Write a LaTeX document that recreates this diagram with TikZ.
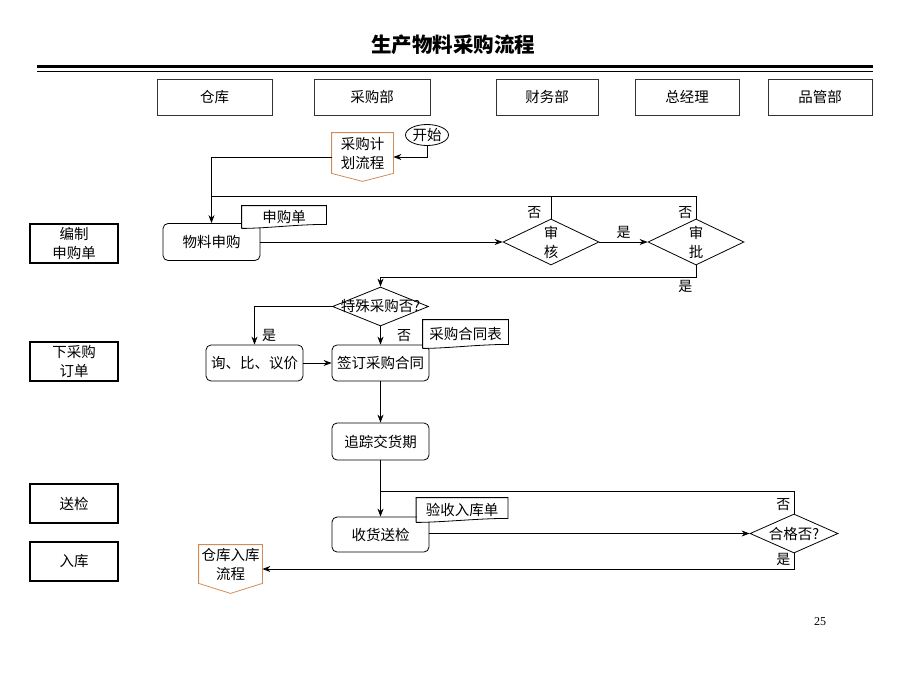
\documentclass[tikz,border=0pt]{standalone}
\usepackage{fontspec}
\setmainfont{Noto Sans CJK SC}
\newfontfamily\numfont{Liberation Serif}
\usetikzlibrary{arrows.meta,
  calc,
  positioning,
  shapes
}
\definecolor{pagecol}{RGB}{210,140,90}

% document symbol round a named node
\newcommand{\docshape}[1]{%
  \draw (#1.south west) -- (#1.north west) -- (#1.north east) -- ([yshift=4pt]#1.south east)
    .. controls +(-30pt,0pt) and +(25pt,0pt) .. (#1.south west);}
% off-page symbol round a named node
\newcommand{\offpage}[2]{%
  \draw[pagecol] (#1.south west) -- (#1.north west) -- (#1.north east) -- (#1.south east)
    -- ([yshift=-#2]#1.south) -- cycle;}

\begin{document}
\begin{tikzpicture}[x=1pt, y=-1pt, >={Stealth[length=8pt,width=6pt]}, line width=0.8pt,
  every node/.style={font=\fontsize{14.5}{19}\selectfont},
  lane/.style={draw=black!80, line width=0.7pt, minimum height=36pt},
  side/.style={draw, line width=1.8pt, minimum width=88pt, minimum height=39pt, align=center},
  box/.style={draw, rounded corners=5pt, inner sep=3pt, minimum width=97pt, minimum height=36pt},
  dec/.style={draw, diamond, inner sep=0pt},
  doc/.style={fill=white, inner sep=1pt},
  page/.style={align=center, inner sep=0pt},
  note/.style={font=\fontsize{14}{16}\selectfont}]
  \useasboundingbox (0,0) rectangle (920,690);

  % title
  \node[font=\fontsize{20.5}{24}\selectfont\bfseries] (title) at (453,45) {生产物料采购流程};
  \draw[line width=3pt] (37,67) -- (873,67);
  \draw[line width=1pt] (37,71.5) -- (873,71.5);

  % departments
  \node[lane, minimum width=115pt] (ware) at (214.5,97) {仓库};
  \node[lane, minimum width=116pt] (purch) at (372,97) {采购部};
  \node[lane, minimum width=102pt] (fin) at (547,97) {财务部};
  \node[lane, minimum width=104pt] (gm) at (687,97) {总经理};
  \node[lane, minimum width=104pt] (qc) at (820,97) {品管部};

  % steps
  \node[side] (sApply) at (74,243.5) {编制\\申购单};
  \node[side] (sOrder) at (74,361.5) {下采购\\订单};
  \node[side] (sCheck) at (74,503.5) {送检};
  \node[side] (sStore) at (74,561.5) {入库};

  % request
  \node[draw, ellipse, inner sep=0pt, minimum width=43pt, minimum height=21pt] (start) at (427,135) {开始};
  \node[page, minimum width=61pt, minimum height=40pt] (plan) at (362.5,153) {采购计\\划流程};
  \offpage{plan}{8pt}
  \node[box, minimum height=37pt] (apply) at (211.5,242) {物料申购};
  \node[doc, minimum width=84pt, minimum height=22pt] (form1) at (284,217) {申购单};
  \docshape{form1}
  \draw[->] (start) |- ([yshift=-4pt]plan.east);
  \draw[->] ([yshift=-4pt]plan.west) -| (apply);

  % approval
  \node[dec, minimum width=96pt, minimum height=46pt, label={[align=center]center:审\\核}] (review) at (551,242) {};
  \node[dec, minimum width=96pt, minimum height=46pt, label={[align=center]center:审\\批}] (approve) at (696,242) {};
  \coordinate (topL) at (211.5,196);
  \coordinate (yes1) at (696,277);
  \draw[->] (apply) -- (review);
  \draw[->] (review) -- node[note, above] {是} (approve);
  \draw (review.north) -- node[note, pos=0.25, left=6pt] {否} (review.north |- topL);
  \draw (approve.north) -- node[note, pos=0.25, left] {否} (approve.north |- topL) -- (topL);

  % order
  \node[dec, minimum width=96pt, minimum height=39pt, label=center:特殊采购否?] (special) at (380.5,306.5) {};
  \node[box] (compare) at (254.5,363) {询、比、议价};
  \node[box] (sign) at (380.5,363) {签订采购合同};
  \node[doc, minimum width=85pt, minimum height=28pt] (form2) at (465.5,334) {采购合同表};
  \docshape{form2}
  \node[box, minimum height=37pt] (track) at (380.5,441.5) {追踪交货期};
  \draw[->] (approve.south) -- (yes1) node[note, below left] {是} -| (special);
  \draw[->] (special) -| node[note, pos=0.88, right=4pt] {是} (compare);
  \draw[->] (special) -- node[note, right=13pt] {否} (sign);
  \draw[->] (compare) -- (sign);
  \draw[->] (sign) -- (track);

  % inspection
  \node[box, minimum height=35pt] (receive) at (380.5,534.5) {收货送检};
  \node[doc, minimum width=91pt, minimum height=24pt] (form3) at (462,510) {验收入库单};
  \docshape{form3}
  \node[dec, minimum width=88pt, minimum height=39pt, label=center:合格否?] (quality) at (794,533.5) {};
  \node[page, minimum width=63pt, minimum height=38pt] (inbound) at (230.5,564) {仓库入库\\流程};
  \offpage{inbound}{10pt}
  \coordinate (topQ) at (380.5,491);
  \draw[->] (track) -- (receive);
  \draw[->] (receive.east |- quality) -- (quality);
  \draw (quality) |- node[note, pos=0.2, left] {否} (topQ);
  \draw[->] (quality) |- node[note, above left] {是} ([yshift=-5pt]inbound.east);

  \node[font=\numfont\fontsize{12}{14}\selectfont] (pnum) at (820,622) {25};
\end{tikzpicture}
\end{document}
